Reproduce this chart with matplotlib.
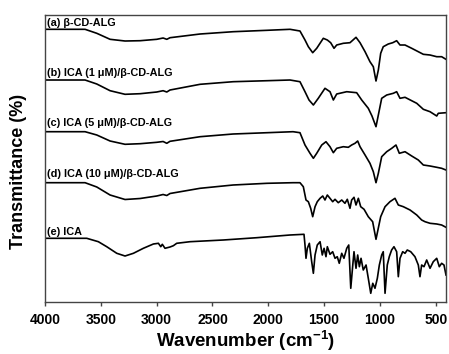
import matplotlib
matplotlib.use("Agg")
import matplotlib.pyplot as plt

plt.rcParams['font.family'] = ['Liberation Sans', 'DejaVu Sans']
plt.rcParams['font.weight'] = 'bold'
plt.rcParams['mathtext.fontset'] = 'custom'
plt.rcParams['mathtext.rm'] = 'Liberation Sans:bold'
plt.rcParams['mathtext.default'] = 'rm'

# spectra (stacked, arbitrary transmittance units)
wn_a = [4000, 3641, 3536, 3417, 3283, 3148, 2999, 2942, 2909, 2880, 2611, 2315, 2011, 1805, 1716, 1671, 1641, 1602, 1566, 1507,
        1471, 1441, 1411, 1387, 1328, 1268, 1214, 1178, 1133, 1089, 1059, 1035, 1014, 993, 970, 925, 885, 850, 820, 775,
        715, 656, 611, 551, 491, 447, 408]
t_a = [272.7, 272.7, 268.7, 262.7, 261, 261.3, 262.7, 264, 262.7, 264.3, 268, 270.3, 271.7, 272.7, 271, 262, 255.3, 249.3, 253.7, 263.7,
       262, 259.3, 253.7, 257, 258.7, 259.3, 264.7, 259.3, 250.3, 240.3, 235.3, 221, 232, 248.7, 255.3, 258, 259.3, 261.3, 257, 257,
       253.7, 250.3, 247.7, 247, 245.3, 245.3, 242.7]

wn_b = [4000, 3641, 3536, 3417, 3283, 3148, 2999, 2942, 2909, 2880, 2611, 2315, 2011, 1805, 1716, 1671, 1635, 1596, 1552, 1492,
        1447, 1417, 1387, 1297, 1208, 1163, 1104, 1071, 1035, 1005, 984, 939, 880, 850, 820, 775, 670, 611, 551, 491,
        477, 408]
t_b = [222, 222, 218, 211.3, 207.7, 208.3, 210, 211.3, 210, 212, 217.7, 220.3, 221.3, 222, 220.3, 210.3, 202, 197, 203.7, 213.7,
       210.3, 202, 208, 210.3, 209.3, 202, 193.7, 186, 175.3, 192, 203.7, 207, 208.7, 210.3, 203.7, 204.7, 198.7, 192.7, 190.3, 186,
       188.7, 189.3]

wn_c = [4000, 3641, 3536, 3417, 3283, 3148, 2999, 2942, 2909, 2880, 2611, 2315, 2011, 1778, 1716, 1671, 1626, 1596, 1566, 1521,
        1483, 1447, 1417, 1387, 1328, 1283, 1253, 1223, 1199, 1178, 1133, 1089, 1059, 1035, 1014, 984, 939, 894, 856, 826,
        775, 715, 656, 611, 551, 491, 447, 408]
t_c = [170.3, 170.3, 167, 161, 157.7, 158.3, 159.7, 160.5, 158.7, 160.7, 165.3, 168, 169.3, 170.3, 169.3, 157, 148.7, 143.7, 148.7, 157,
       160.3, 155.3, 149.3, 153.7, 155.3, 154.7, 157, 158.7, 161, 155.3, 147, 138.7, 130.3, 119.3, 128.7, 145.3, 150.3, 153.7, 157, 148.7,
       150.3, 146, 142, 137, 136, 134.7, 133.7, 132]

wn_d = [4000, 3641, 3536, 3417, 3283, 3148, 2999, 2942, 2909, 2880, 2611, 2315, 2011, 1778, 1716, 1686, 1662, 1641, 1620, 1602,
        1581, 1561, 1536, 1512, 1492, 1471, 1447, 1423, 1402, 1373, 1342, 1313, 1292, 1268, 1253, 1232, 1214, 1193, 1172, 1142,
        1104, 1065, 1035, 993, 954, 910, 865, 835, 790, 730, 670, 626, 596, 551, 491, 447, 408]
t_d = [119.3, 119.3, 115, 107, 102.5, 103.5, 106, 107.5, 106.5, 108.5, 113.7, 117, 118.7, 119.3, 119.3, 115.3, 102, 100.3, 93.7, 85.3,
       95.3, 100.3, 103.7, 106, 102, 107, 103.7, 100.3, 102.7, 99.3, 102, 98.7, 102.7, 93.7, 102, 104.7, 97, 103.7, 95.3, 92.7,
       85.3, 80.3, 62.7, 85.3, 95.3, 100.3, 103.7, 97, 95.3, 92, 87, 82, 80.3, 78.7, 78, 77, 74.7]

wn_e = [4000, 3626, 3522, 3447, 3357, 3283, 3208, 3119, 3029, 2984, 2963, 2949, 2925, 2880, 2850, 2820, 2701, 2402, 2103, 1805,
        1680, 1671, 1662, 1650, 1632, 1611, 1596, 1581, 1561, 1536, 1516, 1500, 1483, 1471, 1447, 1423, 1402, 1382, 1364, 1342,
        1322, 1297, 1279, 1261, 1243, 1232, 1214, 1199, 1184, 1169, 1149, 1124, 1104, 1082, 1064, 1044, 1023, 1005, 984, 970,
        954, 934, 916, 895, 874, 850, 835, 820, 796, 775, 755, 724, 686, 656, 641, 626, 605, 581, 551, 522,
        491, 468, 447, 426, 408]
t_e = [63.7, 63.7, 60.3, 55.3, 48.7, 46, 48.7, 53.7, 58, 58.7, 55.3, 57.7, 53.7, 55, 56.3, 58.7, 60.3, 62, 64.3, 67,
       67.7, 57, 43.7, 53.7, 58.7, 40.3, 28.7, 47, 57, 60.3, 47, 53.7, 45.3, 55.3, 47.7, 50.3, 43.7, 45.3, 38.7, 48.7,
       43.7, 53.7, 57, 13.7, 37, 50.3, 33.7, 47, 35.3, 43.7, 32, 37, 23.7, 8.7, 18.7, 13.7, 23.7, 37, 47, 50.3,
       8.7, 37, 45.3, 52, 55.3, 50.3, 25.3, 43.7, 50.3, 48.7, 52, 50.3, 45.3, 37, 25.3, 37, 35.3, 42, 33.7, 40.3,
       43.7, 35.3, 38.7, 37, 27]

labels = ['(a) β-CD-ALG', '(b) ICA (1 μM)/β-CD-ALG', '(c) ICA (5 μM)/β-CD-ALG',
          '(d) ICA (10 μM)/β-CD-ALG', '(e) ICA']
label_y = [279, 229.3, 178.7, 127.7, 70.3]
xticks = [4000, 3500, 3000, 2500, 2000, 1500, 1000, 500]

fig = plt.figure(figsize=(4.49, 3.54), dpi=100)
ax = fig.add_axes([0.1002, 0.1469, 0.8931, 0.8107])

spectra = [(wn_a, t_a), (wn_b, t_b), (wn_c, t_c), (wn_d, t_d), (wn_e, t_e)]
for (x, y), lab, ly in zip(spectra, labels, label_y):
    ax.plot(x, y, color='black', lw=1.2)
    ax.text(3985, ly, lab, fontsize=7.8, fontweight='bold', va='center', ha='left')

ax.set_xlim(4000, 408)
ax.set_ylim(0, 287)
ax.set_xticks(xticks)
ax.set_xticklabels([str(t) for t in xticks], fontsize=10, fontweight='bold')
ax.set_yticks([])
ax.tick_params(axis='x', direction='out', length=3, width=1, color='#444444', pad=5)
for s in ax.spines.values():
    s.set_color('#444444')
    s.set_linewidth(1)

ax.set_xlabel('Wavenumber (cm$^{-1}$)', fontsize=13.5, fontweight='bold', labelpad=1)
fig.text(19 / 449, 1 - 171 / 354, 'Transmittance (%)', rotation=90, fontsize=13,
         fontweight='bold', ha='center', va='center')

fig.savefig('out.png', dpi=100)
